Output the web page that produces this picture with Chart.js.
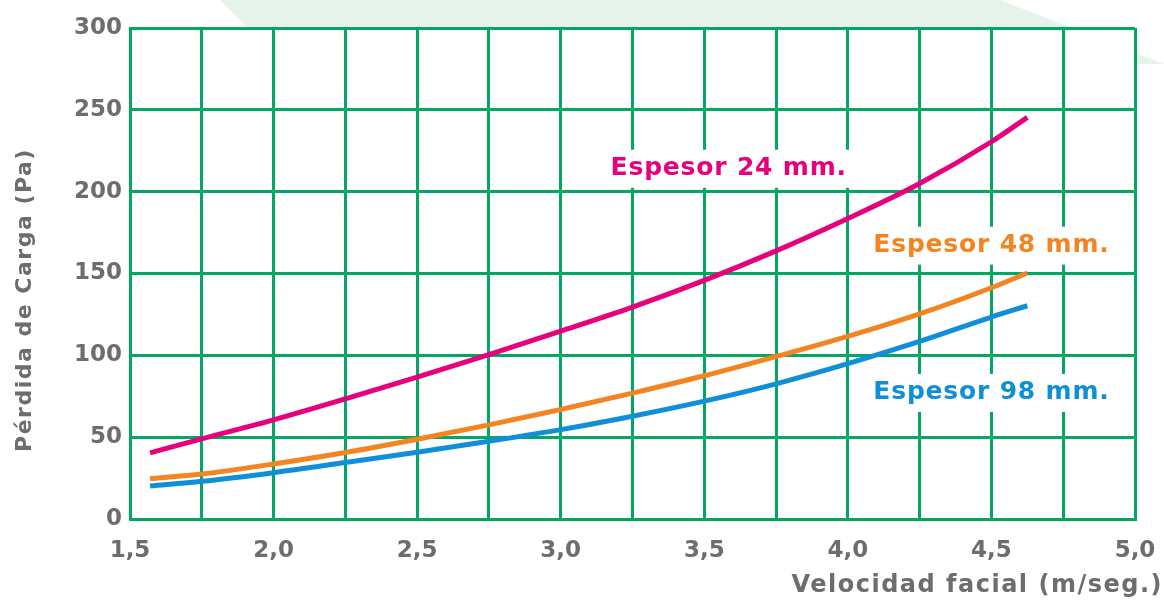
<!DOCTYPE html>
<html>
<head>
<meta charset="utf-8">
<script src="https://cdn.jsdelivr.net/npm/chart.js@4/dist/chart.umd.min.js"></script>
<style>
  html, body { margin: 0; padding: 0; background: #fff; }
  #wrap { position: relative; width: 1164px; height: 601px; }
</style>
</head>
<body>
<div id="wrap"><canvas id="chart" width="1164" height="601"></canvas></div>
<script>
// Data
const velocities = [1.57, 1.75, 2.0, 2.25, 2.5, 2.75, 3.0, 3.25, 3.5, 3.75, 4.0, 4.25, 4.5, 4.625];
const loss24 = [40.4, 49, 60.6, 73.4, 86.7, 100.5, 114.8, 129.5, 145.8, 163.8, 183.6, 205, 230.5, 245.4];
const loss48 = [24.7, 27.5, 33.6, 40.6, 48.7, 57.5, 66.9, 76.9, 87.5, 99.3, 111.6, 125.3, 141.3, 150.3];
const loss98 = [20.2, 23, 28.3, 34.5, 40.8, 47.5, 54.6, 62.8, 72, 82.6, 94.9, 108.5, 123.4, 130.3];

const seriesNames = ["Espesor 24 mm.", "Espesor 48 mm.", "Espesor 98 mm."];
const seriesColors = ["#e6007e", "#f28522", "#0f8fd8"];
// where each curve label sits (data coords, centre of text)
const labelX = [3.585, 4.5, 4.5];
const labelY = [214, 167, 77];

const GRID = "#00a862";
const GREY = "#6d6d6d";
const FONT = "'DejaVu Sans', Verdana, sans-serif";

function pts(ys) {
  return velocities.map((x, i) => ({ x, y: ys[i] }));
}

// light green decoration behind the chart
const backdrop = {
  id: "backdrop",
  beforeDraw(chart) {
    const c = chart.ctx;
    c.save();
    c.fillStyle = "#e5f3ea";
    c.beginPath();
    c.moveTo(220, 0);
    c.lineTo(1000, 0);
    c.lineTo(1164, 64);
    c.lineTo(1135, 64);
    c.lineTo(1135, 30);
    c.lineTo(250, 30);
    c.closePath();
    c.fill();
    const a = chart.chartArea;
    c.fillStyle = "#fff";
    c.fillRect(a.left, a.top, a.right - a.left, a.bottom - a.top);
    c.restore();
  },
};

// curve labels and axis titles (spaced out like Verdana)
const labels = {
  id: "labels",
  afterDraw(chart) {
    const c = chart.ctx;
    const xs = chart.scales.x, ys = chart.scales.y;
    c.save();
    c.letterSpacing = "0.8px";
    c.font = "bold 25px " + FONT;
    c.textAlign = "center";
    c.textBaseline = "middle";
    seriesNames.forEach((name, i) => {
      const px = xs.getPixelForValue(labelX[i]);
      const py = ys.getPixelForValue(labelY[i]);
      const w = c.measureText(name).width;
      c.fillStyle = "#fff";
      c.fillRect(px - w / 2 - 4, py - 19, w + 8, 38);
      c.fillStyle = seriesColors[i];
      c.fillText(name, px, py);
    });

    c.letterSpacing = "1.5px";
    c.fillStyle = GREY;
    c.font = "bold 24px " + FONT;
    c.textAlign = "right";
    c.textBaseline = "middle";
    c.fillText("Velocidad facial (m/seg.)", 1163, 586);

    c.font = "bold 22px " + FONT;
    c.translate(25, 300);
    c.rotate(-Math.PI / 2);
    c.textAlign = "center";
    c.fillText("Pérdida de Carga (Pa)", 0, 0);
    c.restore();
  },
};

new Chart(document.getElementById("chart"), {
  type: "line",
  data: {
    datasets: [loss24, loss48, loss98].map((d, i) => ({
      label: seriesNames[i],
      data: pts(d),
      borderColor: seriesColors[i],
      borderWidth: 5,
      pointRadius: 0,
      cubicInterpolationMode: "monotone",
      fill: false,
    })),
  },
  options: {
    responsive: false,
    animation: false,
    layout: { padding: { left: 0, top: 28, right: 29, bottom: 0 } },
    plugins: { legend: { display: false }, tooltip: { enabled: false } },
    scales: {
      x: {
        type: "linear",
        min: 1.5,
        max: 5.0,
        afterFit: (s) => { s.height = 82; s.paddingRight = 0; },
        afterBuildTicks: (s) => {
          const t = [];
          for (let v = 1.5; v <= 5.0001; v += 0.25) t.push({ value: +v.toFixed(2) });
          s.ticks = t;
        },
        grid: { color: GRID, lineWidth: 3, drawTicks: false },
        border: { color: GRID, width: 3 },
        ticks: {
          autoSkip: false,
          maxRotation: 0,
          padding: 18,
          color: GREY,
          font: { family: FONT, size: 23, weight: "bold" },
          callback: (v) => (Math.abs(v * 2 - Math.round(v * 2)) < 1e-6 ? v.toFixed(1).replace(".", ",") : ""),
        },
      },
      y: {
        min: 0,
        max: 300,
        afterFit: (s) => { s.width = 130; },
        grid: { color: GRID, lineWidth: 3, drawTicks: false },
        border: { color: GRID, width: 3 },
        ticks: {
          stepSize: 50,
          padding: 8,
          color: GREY,
          font: { family: FONT, size: 23, weight: "bold" },
        },
      },
    },
  },
  plugins: [backdrop, labels],
});
</script>
</body>
</html>
